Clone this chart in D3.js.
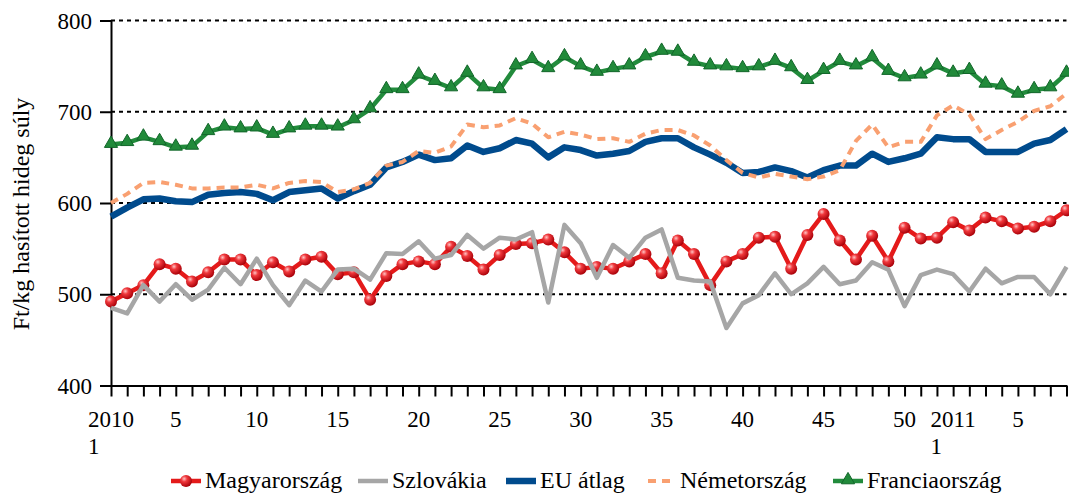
<!DOCTYPE html>
<html>
<head>
<meta charset="utf-8">
<script src="https://cdn.jsdelivr.net/npm/d3@7"></script>
<style>
  body { margin: 0; background: #fff; }
  svg { display: block; font-family: "Liberation Serif", "Times New Roman", serif; }
</style>
</head>
<body>
<div id="chart" style="width:1069px;height:497px"></div>
<script>
// weeks: 2010/1 .. 2010/52, 2011/1 .. 2011/8
const weeks = [1,2,3,4,5,6,7,8,9,10,11,12,13,14,15,16,17,18,19,20,21,22,23,24,25,26,
  27,28,29,30,31,32,33,34,35,36,37,38,39,40,41,42,43,44,45,46,47,48,49,50,51,52,
  1,2,3,4,5,6,7,8];

const magyarorszag = [492,501,510,533,528,514,524,538,538,521,535,525,538,541,522,524,494,520,533,536,
  533,552,542,527,543,555,556,560,546,528,530,528,536,544,523,559,544,510,536,544,
  562,563,528,565,588,559,538,564,536,573,561,562,579,570,584,580,572,574,580,592];

const szlovakia = [485,479,510,492,511,494,505,529,511,539,510,488,515,503,527,528,516,545,544,558,
  539,543,565,550,562,560,568,491,576,556,518,554,540,562,571,518,515,514,463,490,
  499,523,500,512,530,511,515,535,527,487,521,527,522,503,528,512,519,519,500,530];

const euAtlag = [585,595,604,605,602,601,609,611,612,610,603,612,614,616,605,613,620,639,645,653,
  647,649,663,656,660,669,665,650,661,658,652,654,657,667,671,671,661,653,644,633,
  634,639,635,628,636,641,641,654,645,649,654,672,670,670,656,656,656,665,669,681];

const nemetorszag = [600,610,622,623,620,616,616,617,617,620,616,622,624,623,612,615,622,641,645,657,
  655,662,686,683,685,693,687,672,678,675,670,671,667,676,680,680,674,663,647,633,
  628,632,629,626,629,636,668,686,661,667,667,696,707,697,670,680,689,701,706,720];

const franciaorszag = [664,666,672,667,661,662,678,683,681,682,675,681,684,684,683,691,703,724,724,740,
  733,726,742,726,724,750,757,747,760,750,743,747,750,760,766,765,754,750,749,747,
  749,755,748,734,745,755,750,759,744,737,740,750,742,745,730,728,719,724,726,742];

const yTicks = [400, 500, 600, 700, 800];
const labelIndex = [0, 4, 9, 14, 19, 24, 29, 34, 39, 44, 49, 52, 56];
const labelText = [["2010","1"],["5"],["10"],["15"],["20"],["25"],["30"],["35"],["40"],["45"],["50"],["2011","1"],["5"]];
const yTitle = "Ft/kg hasított hideg súly";

const series = [
  { name: "Magyarország", values: magyarorszag, color: "#e41a1a", width: 4.5, marker: "ball" },
  { name: "Szlovákia", values: szlovakia, color: "#a6a6a6", width: 4.5 },
  { name: "EU átlag", values: euAtlag, color: "#004b8d", width: 6.5 },
  { name: "Németország", values: nemetorszag, color: "#f9a071", width: 4, dash: "8,6" },
  { name: "Franciaország", values: franciaorszag, color: "#228b3c", width: 4.5, marker: "triangle" }
];

const W = 1069, H = 497;
const plotLeft = 111, plotRight = 1066.5, plotTop = 20.5, plotBottom = 385.5;

const svg = d3.select("#chart").append("svg")
  .attr("width", W).attr("height", H);

const defs = svg.append("defs");
const grad = defs.append("radialGradient").attr("id", "ball")
  .attr("cx", "35%").attr("cy", "32%").attr("r", "70%");
grad.append("stop").attr("offset", "0%").attr("stop-color", "#ffc4c4");
grad.append("stop").attr("offset", "35%").attr("stop-color", "#f0383c");
grad.append("stop").attr("offset", "100%").attr("stop-color", "#a80008");

const x = d3.scalePoint().domain(d3.range(weeks.length)).range([plotLeft, plotRight]);
const y = d3.scaleLinear().domain([400, 800]).range([plotBottom, plotTop]);

// gridlines
svg.append("g").selectAll("line")
  .data(yTicks.filter(d => d > 400))
  .join("line")
  .attr("x1", plotLeft).attr("x2", plotRight)
  .attr("y1", d => y(d)).attr("y2", d => y(d))
  .attr("stroke", "#000").attr("stroke-width", 2)
  .attr("stroke-dasharray", "4,4");

// y axis
const yAxis = svg.append("g")
  .attr("transform", `translate(${plotLeft},0)`)
  .call(d3.axisLeft(y).tickValues(yTicks).tickSize(11).tickSizeOuter(0).tickPadding(8));
yAxis.select(".domain").attr("stroke-width", 2);
yAxis.selectAll(".tick line").attr("stroke-width", 2);
yAxis.selectAll(".tick text")
  .attr("font-family", "Liberation Serif, serif").attr("font-size", 23)
  .attr("fill", "#000").attr("dy", "0.33em");

// x axis
const xAxis = svg.append("g")
  .attr("transform", `translate(0,${plotBottom})`)
  .call(d3.axisBottom(x).tickSize(11).tickSizeOuter(0).tickFormat(""));
xAxis.select(".domain").attr("stroke-width", 2);
xAxis.selectAll(".tick line").attr("stroke-width", 2);

const xl = svg.append("g").attr("font-size", 23).attr("fill", "#000");
labelIndex.forEach((idx, k) => {
  const lines = labelText[k];
  const t = xl.append("text").attr("x", x(idx)).attr("y", 427)
    .attr("text-anchor", "middle").text(lines[0]);
  if (lines.length > 1) {
    const w = t.node().getComputedTextLength();
    xl.append("text").attr("x", x(idx) - w / 2).attr("y", 454).text(lines[1]);
  }
});

// y title
svg.append("text")
  .attr("transform", "translate(29,214) rotate(-90)")
  .attr("text-anchor", "middle")
  .attr("font-size", 24)
  .text(yTitle);

const line = d3.line().x((d, i) => x(i)).y(d => y(d));
const tri = d3.symbol().type(d3.symbolTriangle).size(75);

series.forEach(s => {
  const g = svg.append("g");
  g.append("path")
    .attr("d", line(s.values))
    .attr("fill", "none")
    .attr("stroke", s.color)
    .attr("stroke-width", s.width)
    .attr("stroke-linejoin", "round")
    .attr("stroke-dasharray", s.dash || null);
  if (s.marker === "ball") {
    g.selectAll("circle").data(s.values).join("circle")
      .attr("cx", (d, i) => x(i)).attr("cy", d => y(d)).attr("r", 6)
      .attr("fill", "url(#ball)");
  } else if (s.marker === "triangle") {
    g.selectAll(".tri").data(s.values).join("path")
      .attr("class", "tri")
      .attr("d", tri)
      .attr("transform", (d, i) => `translate(${x(i)},${y(d) - 1})`)
      .attr("fill", "#218a3a").attr("stroke", "#12662a").attr("stroke-width", 1);
  }
});

// legend
const legendX = [171, 358, 506, 646, 833];
const legend = svg.append("g").attr("font-size", 24);
series.forEach((s, i) => {
  const lg = legend.append("g").attr("transform", `translate(${legendX[i]},481)`);
  lg.append("line").attr("x1", 0).attr("x2", 30).attr("y1", 0).attr("y2", 0)
    .attr("stroke", s.color).attr("stroke-width", s.width)
    .attr("stroke-dasharray", s.dash ? "8,6" : null)
    .attr("stroke-dashoffset", s.dash ? -2 : null);
  if (s.marker === "ball") {
    lg.append("circle").attr("cx", 15).attr("cy", 0).attr("r", 6).attr("fill", "url(#ball)");
  } else if (s.marker === "triangle") {
    lg.append("path").attr("d", tri).attr("transform", "translate(15,-1)")
      .attr("fill", "#218a3a").attr("stroke", "#12662a").attr("stroke-width", 1);
  }
  lg.append("text").attr("x", 34).attr("y", 7).text(s.name);
});
</script>
</body>
</html>
